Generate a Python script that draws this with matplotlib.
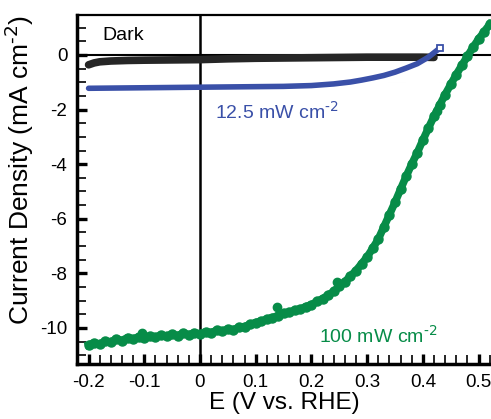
import numpy as np
import matplotlib
matplotlib.use("Agg")
import matplotlib.pyplot as plt
from matplotlib.ticker import MultipleLocator

plt.rcParams['font.family'] = ['Liberation Sans', 'DejaVu Sans']
plt.rcParams['axes.unicode_minus'] = False

# dark current
dark_E = [-0.20, -0.19, -0.18, -0.16, -0.13, -0.10, -0.05, 0.00, 0.05, 0.10,
          0.15, 0.20, 0.25, 0.30, 0.35, 0.40, 0.42]
dark_J = [-0.36, -0.29, -0.25, -0.22, -0.20, -0.19, -0.18, -0.17, -0.14, -0.12,
          -0.11, -0.10, -0.09, -0.08, -0.08, -0.08, -0.09]

# 12.5 mW cm-2
low_E = [-0.20, -0.10, 0.00, 0.10, 0.15, 0.20, 0.24, 0.27, 0.29, 0.31,
         0.33, 0.35, 0.37, 0.39, 0.41, 0.431]
low_J = [-1.22, -1.20, -1.18, -1.16, -1.15, -1.12, -1.06, -0.99, -0.92, -0.84,
         -0.75, -0.63, -0.48, -0.32, -0.08, 0.26]

# 100 mW cm-2
high_E = [-0.20, -0.19, -0.18, -0.17, -0.16, -0.15, -0.14, -0.13, -0.12, -0.11,
          -0.10, -0.09, -0.08, -0.07, -0.06, -0.05, -0.04, -0.03, -0.02, -0.01,
          0.00, 0.01, 0.02, 0.03, 0.04, 0.05, 0.06, 0.07, 0.08, 0.09,
          0.10, 0.11, 0.12, 0.13, 0.14, 0.15, 0.16, 0.17, 0.18, 0.19,
          0.20, 0.21, 0.22, 0.23, 0.24, 0.25, 0.26, 0.27, 0.28, 0.29,
          0.30, 0.31, 0.32, 0.33, 0.34, 0.35, 0.36, 0.37, 0.38, 0.39,
          0.40, 0.41, 0.42, 0.43, 0.44, 0.45, 0.46, 0.47, 0.48, 0.49,
          0.50, 0.51, 0.52]
high_J = [-10.62, -10.55, -10.60, -10.48, -10.52, -10.40, -10.46, -10.35, -10.41, -10.32,
          -10.37, -10.29, -10.34, -10.26, -10.31, -10.23, -10.28, -10.19, -10.25, -10.18,
          -10.22, -10.14, -10.17, -10.09, -10.12, -10.04, -10.07, -9.97, -9.95, -9.87,
          -9.80, -9.75, -9.68, -9.62, -9.55, -9.47, -9.43, -9.35, -9.31, -9.22,
          -9.15, -9.03, -8.93, -8.80, -8.66, -8.48, -8.31, -8.10, -7.90, -7.65,
          -7.40, -7.08, -6.75, -6.30, -5.85, -5.40, -4.92, -4.45, -4.00, -3.58,
          -3.12, -2.68, -2.25, -1.85, -1.45, -1.08, -0.72, -0.38, -0.05, 0.28,
          0.58, 0.85, 1.12]
stray_E = [0.138, 0.246, -0.105, 0.425]
stray_J = [-9.23, -8.30, -10.18, -2.05]

blk = '#262626'
blue = '#3a50a8'
green = '#078c48'

fig = plt.figure(figsize=(4.91, 4.19), dpi=100)
ax = fig.add_axes([77/491, 55/419, 414/491, 349/419])

ax.axhline(0, color='black', lw=1.5, zorder=1)
ax.axvline(0, color='black', lw=1.8, zorder=1)

ax.plot(dark_E, dark_J, color=blk, lw=5.5, solid_capstyle='round', zorder=2)
ax.plot(low_E, low_J, color=blue, lw=4, solid_capstyle='round', zorder=3)
ax.plot(low_E[-1], low_J[-1], 's', ms=5, mfc='white', mec=blue, mew=1.3, zorder=4)
ax.plot(high_E, high_J, color=green, lw=5.5, marker='o', ms=6.5, zorder=3)
ax.plot(stray_E, stray_J, 'o', color=green, ms=6, zorder=3)

ax.text(-0.138, 0.72, 'Dark', fontsize=14, ha='center', va='center')
ax.text(0.027, -2.09, '12.5 mW cm$^{\\text{-2}}$', fontsize=14, color=blue, va='center')
ax.text(0.213, -10.28, '100 mW cm$^{\\text{-2}}$', fontsize=14, color=green, va='center')

ax.set_xlim(-0.2208, 0.5224)
ax.set_ylim(-11.32, 1.465)

ax.xaxis.set_major_locator(MultipleLocator(0.1))
ax.xaxis.set_minor_locator(MultipleLocator(0.02))
ax.yaxis.set_major_locator(MultipleLocator(2))
ax.yaxis.set_minor_locator(MultipleLocator(0.5))
ax.set_xticks([-0.2, -0.1, 0, 0.1, 0.2, 0.3, 0.4, 0.5])
ax.set_xticklabels(['-0.2', '-0.1', '0', '0.1', '0.2', '0.3', '0.4', '0.5'])
ax.set_yticks([-10, -8, -6, -4, -2, 0])
ax.set_yticklabels(['-10', '-8', '-6', '-4', '-2', '0'])

ax.tick_params(which='major', direction='in', length=7.5, width=2.4, labelsize=13.5, pad=7)
ax.tick_params(which='minor', direction='in', length=6.5, width=1.2)
ax.tick_params(top=False, right=False, which='both')

ax.spines['right'].set_visible(False)
ax.spines['left'].set_linewidth(2.5)
ax.spines['bottom'].set_linewidth(2.5)
ax.spines['top'].set_linewidth(1.6)

ax.set_xlabel('E (V vs. RHE)', fontsize=17.5, labelpad=1)
ax.set_ylabel('Current Density (mA cm$^{\\text{-2}}$)', fontsize=19)
ax.yaxis.set_label_coords(-0.098, 0.555)

fig.savefig('out.png', dpi=100)
